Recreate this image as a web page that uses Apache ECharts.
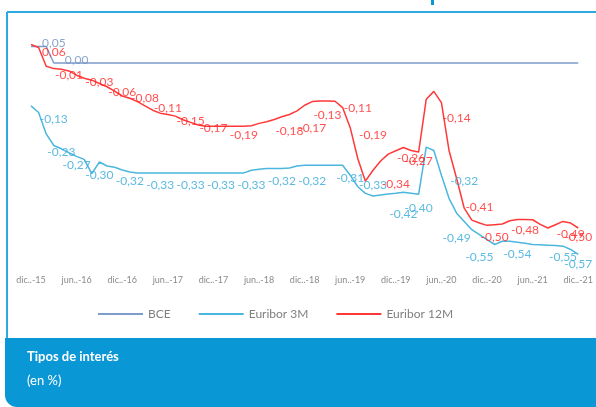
<!DOCTYPE html>
<html>
<head>
<meta charset="utf-8">
<script src="https://cdn.jsdelivr.net/npm/echarts@6/dist/echarts.min.js"></script>
<style>
html,body{margin:0;padding:0;background:#fff;overflow:hidden;}
#c{width:596px;height:407px;}
</style>
</head>
<body>
<div id="c"></div>
<script>
// Month categories (dic..-15 to dic..-21)
const categories = [
 'dic..-15',
 'ene..-16','feb..-16','mar..-16','abr..-16','may..-16','jun..-16','jul..-16','ago..-16','sep..-16','oct..-16','nov..-16','dic..-16',
 'ene..-17','feb..-17','mar..-17','abr..-17','may..-17','jun..-17','jul..-17','ago..-17','sep..-17','oct..-17','nov..-17','dic..-17',
 'ene..-18','feb..-18','mar..-18','abr..-18','may..-18','jun..-18','jul..-18','ago..-18','sep..-18','oct..-18','nov..-18','dic..-18',
 'ene..-19','feb..-19','mar..-19','abr..-19','may..-19','jun..-19','jul..-19','ago..-19','sep..-19','oct..-19','nov..-19','dic..-19',
 'ene..-20','feb..-20','mar..-20','abr..-20','may..-20','jun..-20','jul..-20','ago..-20','sep..-20','oct..-20','nov..-20','dic..-20',
 'ene..-21','feb..-21','mar..-21','abr..-21','may..-21','jun..-21','jul..-21','ago..-21','sep..-21','oct..-21','nov..-21','dic..-21'
];

const bce = [0.05,0.05,0.05,
 0,0,0,0,0,0,0,0,0,0,
 0,0,0,0,0,0,0,0,0,0,0,0,
 0,0,0,0,0,0,0,0,0,0,0,0,
 0,0,0,0,0,0,0,0,0,0,0,0,
 0,0,0,0,0,0,0,0,0,0,0,0,
 0,0,0,0,0,0,0,0,0,0,0,0];

const euribor3m = [-0.13,
 -0.15,-0.215,-0.25,-0.26,-0.272,-0.283,-0.292,-0.335,-0.30,-0.312,-0.316,-0.324,
 -0.33,-0.333,-0.333,-0.333,-0.333,-0.333,-0.333,-0.333,-0.333,-0.333,-0.333,-0.333,
 -0.333,-0.333,-0.333,-0.333,-0.325,-0.322,-0.32,-0.32,-0.32,-0.318,-0.312,-0.31,
 -0.31,-0.31,-0.31,-0.31,-0.31,-0.34,-0.375,-0.395,-0.403,-0.40,-0.397,-0.395,
 -0.392,-0.395,-0.398,-0.255,-0.265,-0.34,-0.41,-0.455,-0.48,-0.505,-0.52,-0.535,
 -0.55,-0.54,-0.54,-0.543,-0.546,-0.55,-0.551,-0.552,-0.553,-0.555,-0.565,-0.58];

const euribor12m = [0.056,
 0.047,-0.01,-0.017,-0.019,-0.024,-0.037,-0.046,-0.052,-0.062,-0.072,-0.085,-0.10,
 -0.107,-0.117,-0.13,-0.143,-0.152,-0.156,-0.161,-0.172,-0.18,-0.188,-0.192,-0.192,
 -0.192,-0.192,-0.192,-0.192,-0.19,-0.183,-0.178,-0.171,-0.163,-0.156,-0.145,-0.128,
 -0.117,-0.115,-0.115,-0.116,-0.135,-0.196,-0.29,-0.358,-0.325,-0.297,-0.276,-0.266,
 -0.256,-0.265,-0.27,-0.11,-0.086,-0.12,-0.265,-0.35,-0.44,-0.476,-0.485,-0.492,
 -0.49,-0.488,-0.478,-0.474,-0.474,-0.475,-0.489,-0.50,-0.49,-0.48,-0.485,-0.50];

// Data labels shown in the chart (month index, value)
const labelMonthsBCE = [3, 6];
const labelValuesBCE = [0.05, 0.00];
const labelMonths3m = [3,4,6,9,13,17,21,25,29,33,37,42,45,49,51,56,57,59,64,70,72];
const labelValues3m = [-0.13,-0.23,-0.27,-0.30,-0.32,-0.33,-0.33,-0.33,-0.33,-0.32,-0.32,-0.31,-0.33,-0.42,-0.40,-0.49,-0.32,-0.55,-0.54,-0.55,-0.57];
const labelMonths12m = [3,5,9,12,15,18,21,24,28,34,37,39,43,45,48,50,51,56,59,61,65,71,72];
const labelValues12m = [0.06,-0.01,-0.03,-0.06,-0.08,-0.11,-0.15,-0.17,-0.19,-0.18,-0.17,-0.13,-0.11,-0.19,-0.34,-0.26,-0.27,-0.14,-0.41,-0.50,-0.48,-0.49,-0.50];

const seriesNames = ['BCE','Euribor 3M','Euribor 12M'];
const colBCE = '#7d9ccb', col3 = '#4bb6de', col12 = '#ff3838';
const FONT = 'Lato, "Open Sans", sans-serif';

function fmt(v){ return v.toFixed(2).replace('.', ','); }
function labelSeries(months, values, color, dy){
  return {
    type: 'scatter', silent: true, symbolSize: 0, z: 5,
    data: months.map((m,i)=>[m, values[i]]),
    label: {
      show: true, position: 'inside', offset: [0, dy],
      color: color, fontSize: 12, fontFamily: FONT,
      formatter: p => fmt(p.value[1])
    }
  };
}

const chart = echarts.init(document.getElementById('c'), null, {renderer:'canvas'});
chart.setOption({
  animation: false,
  backgroundColor: '#ffffff',
  grid: {left: 31, right: 10, top: 30, height: 231, containLabel: false},
  xAxis: {
    type: 'category', data: categories, boundaryGap: false,
    axisLine: {show:false}, axisTick: {show:false}, splitLine: {show:false},
    axisLabel: {interval: 5, color: '#8a8a8a', fontSize: 9, fontFamily: FONT, margin: 15}
  },
  yAxis: {
    type: 'value', min: -0.6, max: 0.1, show: false, splitLine: {show:false}
  },
  legend: {
    data: seriesNames, left: 93, top: 303, icon: 'rect', itemWidth: 45, itemHeight: 2,
    itemGap: 28, textStyle: {color: '#808080', fontSize: 12, fontFamily: FONT}
  },
  series: [
    {name: 'BCE', type: 'line', data: bce, symbol: 'none', color: colBCE, lineStyle: {width: 1.5, color: colBCE}},
    {name: 'Euribor 3M', type: 'line', data: euribor3m, symbol: 'none', color: col3, lineStyle: {width: 1.5, color: col3}},
    {name: 'Euribor 12M', type: 'line', data: euribor12m, symbol: 'none', color: col12, lineStyle: {width: 1.5, color: col12}},
    labelSeries(labelMonthsBCE, labelValuesBCE, '#6d8fc2', -3),
    labelSeries(labelMonths3m, labelValues3m, '#35a9d9', 13),
    labelSeries(labelMonths12m, labelValues12m, '#ff2424', 9)
  ],
  graphic: [
    {type: 'line', shape: {x1: 7, y1: 12, x2: 596, y2: 12}, style: {stroke: '#2ea9e0', lineWidth: 2}},
    {type: 'line', shape: {x1: 7, y1: 12, x2: 7, y2: 340}, style: {stroke: '#2ea9e0', lineWidth: 2}},
    {type: 'rect', shape: {x: 431, y: 0, width: 3, height: 5}, style: {fill: '#0a97d5'}},
    {type: 'rect', shape: {x: 5, y: 338, width: 600, height: 69, r: [0,0,0,12]}, style: {fill: '#0a97d5'}},
    {type: 'text', left: 27, top: 350, style: {text: 'Tipos de interés', fill: '#fff', font: 'bold 13px ' + FONT}},
    {type: 'text', left: 27, top: 374, style: {text: '(en %)', fill: '#fff', font: '13px ' + FONT}}
  ]
});
</script>
</body>
</html>
